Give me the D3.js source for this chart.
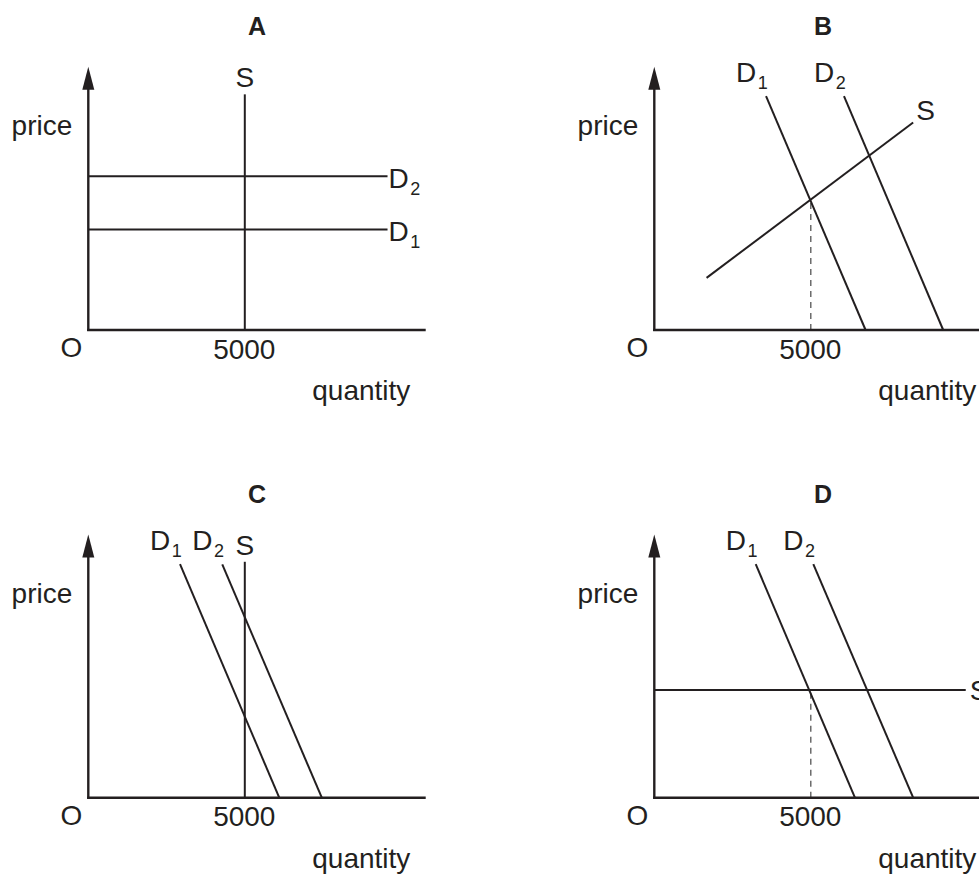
<!DOCTYPE html>
<html>
<head>
<meta charset="utf-8">
<script src="https://cdn.jsdelivr.net/npm/d3@7"></script>
<style>
  html, body { margin: 0; padding: 0; background: #fff; }
  svg { display: block; }
  text { font-family: "Liberation Sans", Arial, Helvetica, sans-serif; fill: #231f20; }
</style>
</head>
<body>
<svg id="chart" width="979" height="874"></svg>
<script>
// ---- data (quantity, price) ----
const panelTitles = ["A", "B", "C", "D"];
const tickLabels = ["O", "5000"];
const axisLabels = ["price", "quantity"];
const markedQuantity = 5000;

const supplyA = [[5000, 0], [5000, 89.5]];
const demandA1 = [[0, 38.2], [9560, 38.2]];
const demandA2 = [[0, 58.4], [9560, 58.4]];

const supplyB = [[1670, 19.8], [8270, 78.8]];
const demandB1 = [[3570, 88.8], [6750, 0]];
const demandB2 = [[6060, 88.8], [9230, 0]];
const guideB = [[5000, 0], [5000, 49.5]];

const supplyC = [[5000, 0], [5000, 89.6]];
const demandC1 = [[2930, 88.7], [6100, 0]];
const demandC2 = [[4280, 88.6], [7460, 0]];

const supplyD = [[0, 40.9], [9950, 40.9]];
const demandD1 = [[3240, 88.7], [6410, 0]];
const demandD2 = [[5080, 88.7], [8270, 0]];
const guideD = [[5000, 0], [5000, 40.9]];

const axisMax = { quantity: 10780, price: 100 };

// ---- layout ----
const ink = "#231f20";
const svg = d3.select("#chart");
const x = d3.scaleLinear().domain([0, 10000]).range([0, 313]);
const y = d3.scaleLinear().domain([0, 100]).range([0, -263.3]);
const line = d3.line().x(d => x(d[0])).y(d => y(d[1]));

const panels = [
  { title: panelTitles[0], ox: 88.3, oy: 330, supply: supplyA, sKind: "vertical",
    demand: [demandA1, demandA2], dKind: "horizontal", guide: null },
  { title: panelTitles[1], ox: 654.3, oy: 330, supply: supplyB, sKind: "sloped",
    demand: [demandB1, demandB2], dKind: "sloped", guide: guideB },
  { title: panelTitles[2], ox: 88.3, oy: 797.7, supply: supplyC, sKind: "vertical",
    demand: [demandC1, demandC2], dKind: "sloped", guide: null },
  { title: panelTitles[3], ox: 654.3, oy: 797.7, supply: supplyD, sKind: "horizontal",
    demand: [demandD1, demandD2], dKind: "sloped", guide: guideD }
];

const mainSize = 28, subSize = 18, titleSize = 25;

function dLabel(g, px, py, sub) {
  const t = g.append("text").attr("x", px).attr("y", py).attr("font-size", mainSize).text("D");
  t.append("tspan").attr("dx", 1.5).attr("dy", 7).attr("font-size", subSize).text(sub);
}

panels.forEach(p => {
  const g = svg.append("g").attr("transform", `translate(${p.ox},${p.oy})`);

  // title
  g.append("text").attr("x", 168.7).attr("y", -295).attr("text-anchor", "middle")
    .attr("font-size", titleSize).attr("font-weight", "bold").text(p.title);

  // guide (dashed)
  if (p.guide) {
    g.append("path").attr("d", line(p.guide)).attr("fill", "none")
      .attr("stroke", "#555").attr("stroke-width", 1.3).attr("stroke-dasharray", "6,5");
  }

  // axes
  const yTop = y(axisMax.price);
  g.append("line").attr("x1", 0).attr("y1", 1).attr("x2", 0).attr("y2", yTop + 20)
    .attr("stroke", ink).attr("stroke-width", 2.4);
  g.append("path").attr("d", `M0,${yTop} L6,${yTop + 23} L-6,${yTop + 23} Z`).attr("fill", ink);
  g.append("line").attr("x1", -1.2).attr("y1", 0).attr("x2", x(axisMax.quantity)).attr("y2", 0)
    .attr("stroke", ink).attr("stroke-width", 2.4);

  // supply
  g.append("path").attr("d", line(p.supply)).attr("fill", "none")
    .attr("stroke", ink).attr("stroke-width", 2);
  // demand
  p.demand.forEach(dd => {
    g.append("path").attr("d", line(dd)).attr("fill", "none")
      .attr("stroke", ink).attr("stroke-width", 2);
  });

  // supply label
  const sEnd = p.supply[1];
  const sx = x(sEnd[0]), sy = y(sEnd[1]);
  if (p.sKind === "vertical") {
    g.append("text").attr("x", sx).attr("y", sy - 7).attr("text-anchor", "middle")
      .attr("font-size", mainSize).text("S");
  } else if (p.sKind === "sloped") {
    g.append("text").attr("x", sx + 3).attr("y", sy - 3).attr("font-size", mainSize).text("S");
  } else {
    g.append("text").attr("x", sx + 4).attr("y", sy + 10).attr("font-size", mainSize).text("S");
  }

  // demand labels
  p.demand.forEach((dd, i) => {
    if (p.dKind === "horizontal") {
      const e = dd[1];
      dLabel(g, x(e[0]) + 1, y(e[1]) + 12, String(i + 1));
    } else {
      const top = dd[0];
      dLabel(g, x(top[0]) - 30, y(top[1]) - 14, String(i + 1));
    }
  });

  // tick labels
  g.append("text").attr("x", -16.8).attr("y", 27).attr("text-anchor", "middle")
    .attr("font-size", mainSize).text(tickLabels[0]);
  g.append("text").attr("x", x(markedQuantity) - 0.5).attr("y", 28.5).attr("text-anchor", "middle")
    .attr("font-size", mainSize).text(tickLabels[1]);

  // axis labels
  g.append("text").attr("x", -16).attr("y", -195).attr("text-anchor", "end")
    .attr("font-size", mainSize).text(axisLabels[0]);
  g.append("text").attr("x", 224).attr("y", 70).attr("text-anchor", "start")
    .attr("font-size", mainSize).text(axisLabels[1]);
});
</script>
</body>
</html>
